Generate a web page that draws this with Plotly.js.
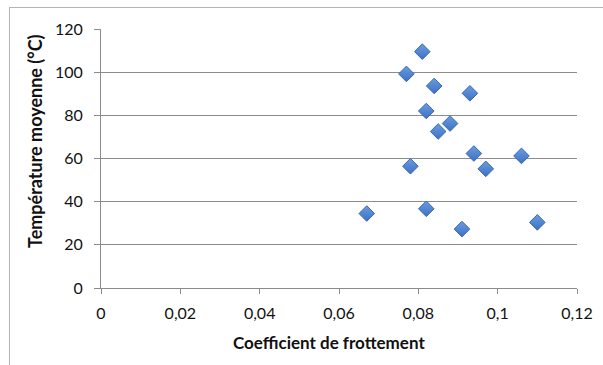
<!DOCTYPE html>
<html><head><meta charset="utf-8">
<script src="https://cdn.plot.ly/plotly-3.0.1.min.js"></script>
<style>html,body{margin:0;padding:0;background:#fff;}#chart{width:603px;height:365px;}
#frame{position:absolute;left:9px;top:7px;width:620px;height:400px;border:1px solid #b4b4b4;pointer-events:none;}</style>
</head><body>
<div id="chart"></div><div id="frame"></div>
<script>
const coefficient = [0.067, 0.077, 0.081, 0.084, 0.082, 0.078, 0.085, 0.088, 0.093, 0.094, 0.097, 0.106, 0.082, 0.091, 0.110];
const temperature = [34.5, 99.2, 109.5, 93.6, 82, 56.4, 72.5, 76.2, 90.2, 62.3, 55.2, 61.2, 36.7, 27.3, 30.4];
const xTickVals = [0, 0.02, 0.04, 0.06, 0.08, 0.1, 0.12];
const xTickText = ['0', '0,02', '0,04', '0,06', '0,08', '0,1', '0,12'];
const yTickVals = [0, 20, 40, 60, 80, 100, 120];
const xTitle = 'Coefficient de frottement';
const yTitle = 'Température moyenne (°C)';

const fam = 'Lato, "Open Sans", sans-serif';
const tickFont = {family: fam, size: 16, color: '#111'};
Plotly.newPlot('chart', [{
  x: coefficient, y: temperature, type: 'scatter', mode: 'markers',
  marker: {symbol: 'diamond', size: 12, color: '#6a9de2',
    gradient: {type: 'vertical', color: '#3d70c2'},
    line: {color: '#3a68ad', width: 1}}
}], {
  width: 603, height: 365,
  margin: {l: 101, r: 26, t: 29, b: 77},
  paper_bgcolor: 'rgba(0,0,0,0)', plot_bgcolor: 'rgba(0,0,0,0)',
  showlegend: false, font: tickFont, separators: ', ',
  xaxis: {range: [0, 0.12], tickvals: xTickVals, ticktext: xTickText,
    showgrid: false, zeroline: false, showline: true, linecolor: '#8c8c8c', linewidth: 1,
    ticks: 'outside', ticklen: 5, tickcolor: '#8c8c8c', tickfont: tickFont, ticklabelstandoff: 6},
  yaxis: {range: [0, 120], tickvals: yTickVals,
    showgrid: true, gridcolor: '#8c8c8c', gridwidth: 1, zeroline: false,
    showline: true, linecolor: '#8c8c8c', linewidth: 1,
    ticks: 'outside', ticklen: 6, tickcolor: '#8c8c8c', tickfont: tickFont, ticklabelstandoff: 8},
  annotations: [
    {text: '<b>' + xTitle + '</b>', xref: 'paper', yref: 'paper', x: 0.479, y: -0.212,
     xanchor: 'center', yanchor: 'middle', showarrow: false, font: {family: fam, size: 17, color: '#111'}},
    {text: '<b>' + yTitle + '</b>', xref: 'paper', yref: 'paper', x: -0.1387, y: 0.5676, textangle: -90,
     xanchor: 'center', yanchor: 'middle', showarrow: false, font: {family: fam, size: 18, color: '#111'}}
  ]
}, {staticPlot: true, displayModeBar: false});
</script>
</body></html>
